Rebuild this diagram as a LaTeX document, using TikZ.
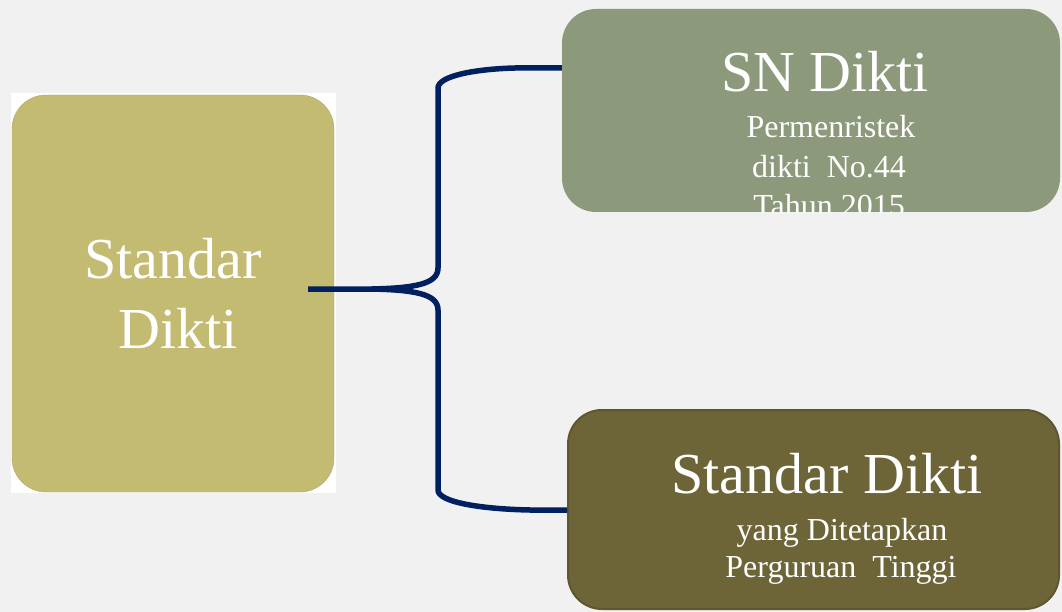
\documentclass[tikz,border=0pt]{standalone}
\usepackage{fontspec}
\setmainfont{Liberation Serif}
\usepackage{tikz}
\usetikzlibrary{positioning}
\definecolor{bggray}{HTML}{F1F1F1}
\definecolor{khaki}{HTML}{C4BB72}
\definecolor{sage}{HTML}{8D997B}
\definecolor{olivedk}{HTML}{6D6538}
\definecolor{navy}{HTML}{002060}

\begin{document}
\begin{tikzpicture}[x=1pt,y=-1pt,
  box/.style={rounded corners=34pt,inner sep=0pt},
  big/.style={text=white,font=\fontsize{58}{70}\selectfont},
  small/.style={text=white,font=\fontsize{32}{39}\selectfont},
  brace/.style={draw=navy,line width=5.5pt}]
  \useasboundingbox[fill=bggray] (0,0) rectangle (1062,612);

  \fill[white] (11,93) rectangle (336,493);
  \node[box,fill=khaki,draw=khaki!90!black,minimum width=322pt,minimum height=397pt,big,align=center] (std) at (173,293.5) {Standar\\\hspace*{10pt}Dikti};

  \coordinate (fork) at (372,289);
  \node[box,fill=sage,minimum width=498pt,minimum height=203pt] (sn) at (811,110.5) {};
  \node[box,fill=olivedk,draw=olivedk!85!black,line width=2pt,minimum width=491pt,minimum height=199pt] (pt) at (813.5,509.5) {};
  \coordinate (snin) at (sn.west |- 0,68);
  \coordinate (ptin) at (pt.west |- 0,510);

  \draw[brace] ([shift={(-26pt,4.5pt)}]std.east) -- (fork)
    .. controls (415,288) and (438,284) .. (438,268) -- (438,88)
    .. controls (438,76) and (475,69) .. (515,68) -- (snin);
  \draw[brace] (fork)
    .. controls (415,290) and (438,294) .. (438,310) -- (438,490)
    .. controls (438,502) and (480,509) .. (530,510) -- (ptin);

  \begin{scope}
    \clip[rounded corners=34pt] (sn.north west) rectangle (sn.south east);
    \node[big,anchor=base] (snt) at (825,92) {SN Dikti};
    \node[small,anchor=base] (sn1) at (831,138) {Permenristek};
    \node[small,anchor=base] (sn2) at (829,178) {dikti\ \ No.44};
    \node[small,anchor=base] (sn3) at (829,217) {Tahun 2015};
  \end{scope}

  \node[big,anchor=base] (ptt) at (827,493) {Standar Dikti};
  \node[small,anchor=base] (pt1) at (842,540) {yang Ditetapkan};
  \node[small,anchor=base] (pt2) at (841,577) {Perguruan\ \ Tinggi};
\end{tikzpicture}
\end{document}
